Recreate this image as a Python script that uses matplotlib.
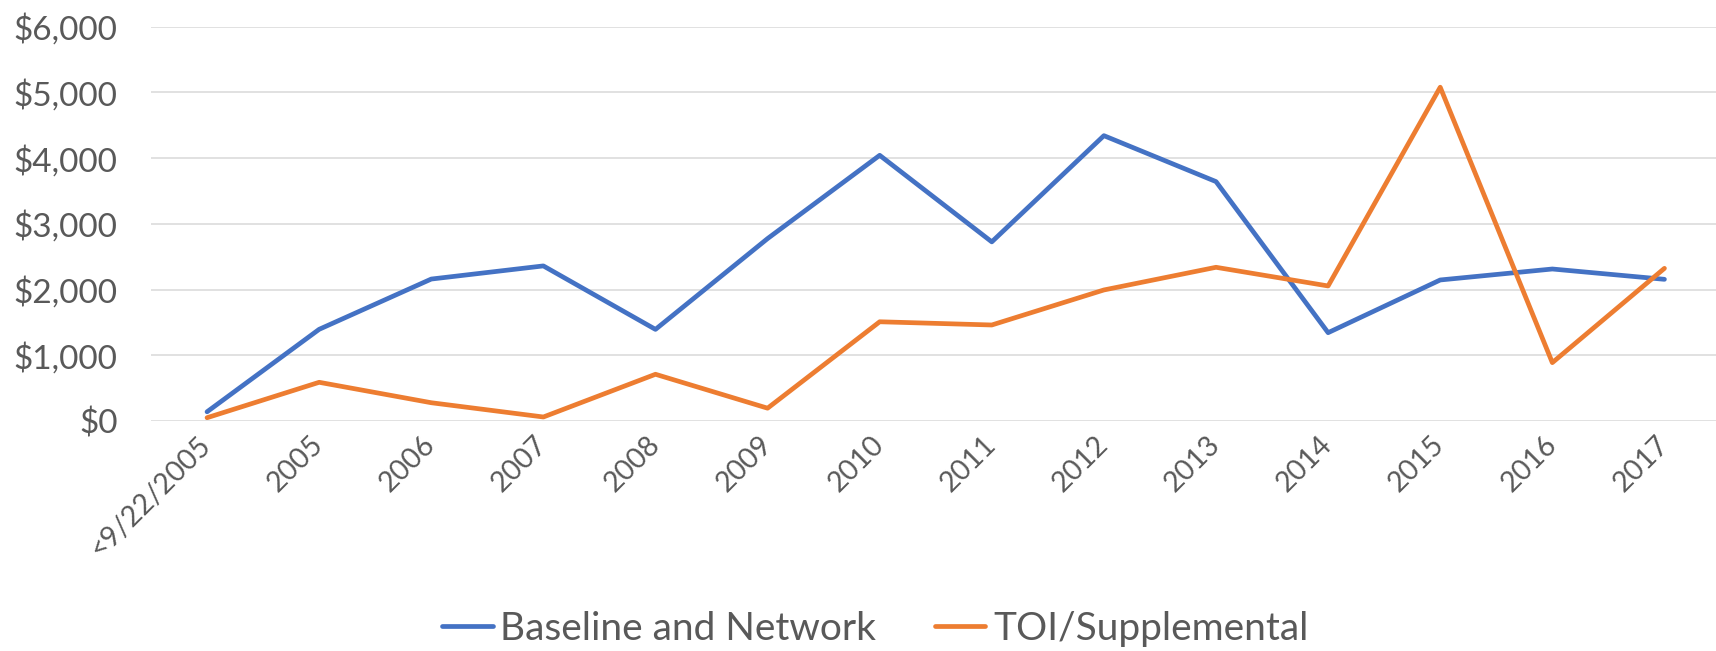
import numpy as np
import pandas as pd
import matplotlib
matplotlib.use('Agg')
import matplotlib.pyplot as plt
from matplotlib.ticker import FuncFormatter

plt.rcParams['font.family'] = ['Lato', 'DejaVu Sans']

# dane
kategorie = ['<9/22/2005', '2005', '2006', '2007', '2008', '2009', '2010',
             '2011', '2012', '2013', '2014', '2015', '2016', '2017']
baseline = [140, 1395, 2160, 2360, 1394, 2776, 4043,
            2726, 4342, 3643, 1344, 2146, 2313, 2156]
toi = [50, 589, 278, 61, 711, 195, 1510,
       1461, 1994, 2339, 2055, 5079, 888, 2323]

szary = '#595959'

fig = plt.figure(figsize=(17.16, 6.51), dpi=100)
ax = fig.add_axes([151 / 1716, 1 - 421 / 651, 1 - 151 / 1716, (421 - 26.7) / 651])

x = np.arange(len(kategorie))
ax.plot(x, baseline, color='#4472C4', lw=3.4, label='Baseline and Network',
        solid_capstyle='round', solid_joinstyle='round')
ax.plot(x, toi, color='#ED7D31', lw=3.4, label='TOI/Supplemental',
        solid_capstyle='round', solid_joinstyle='round')

ax.set_ylim(0, 6000)
ax.set_yticks(np.arange(0, 6001, 1000))
ax.yaxis.set_major_formatter(FuncFormatter(lambda v, p: '${:,.0f}'.format(v)))
ax.set_xlim(-0.5, 13.46)
ax.set_xticks(x)
ax.set_xticklabels(kategorie, rotation=45, ha='right', va='center',
                   rotation_mode='anchor')

ax.grid(axis='y', color='#D9D9D9', lw=1.1)
ax.set_axisbelow(True)
for s in ax.spines.values():
    s.set_visible(False)
ax.tick_params(axis='both', length=0, colors=szary)
ax.tick_params(axis='y', labelsize=24, pad=24)
ax.tick_params(axis='x', labelsize=20.5, pad=14)

fig.legend(loc='center', bbox_to_anchor=(0.51, 0.034), ncol=2, frameon=False,
           fontsize=28, handlelength=1.3, handletextpad=0.2, columnspacing=1.5,
           labelcolor=szary)

plt.savefig('out.png', dpi=100)
